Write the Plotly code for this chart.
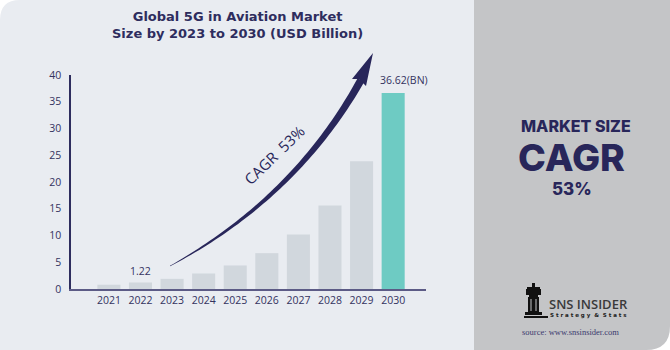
import numpy as np
import plotly.graph_objects as go

# ---------------- data ----------------
years = ["2021", "2022", "2023", "2024", "2025", "2026", "2027", "2028", "2029", "2030"]
market_size = [0.8, 1.22, 1.9, 2.9, 4.4, 6.7, 10.2, 15.6, 23.9, 36.62]
y_ticks = [0, 5, 10, 15, 20, 25, 30, 35, 40]
cagr_label = "CAGR  53%"

W, H = 670, 350
NAVY = "#28265A"
BG = "#E9ECF1"
PANEL = "#C4C5C7"


def px(x):
    return x / W


def py(y):
    return 1 - y / H


bar_colors = ["#D1D7DD"] * (len(years) - 1) + ["#6ECBC3"]

fig = go.Figure()
fig.add_trace(go.Bar(x=years, y=market_size, marker=dict(color=bar_colors, line=dict(width=0)),
                     hoverinfo="x+y", showlegend=False))

shapes = []
# main background with rounded top-left corner
r = 20
shapes.append(dict(type="path", xref="paper", yref="paper", layer="below",
                   path=f"M {px(0)},{py(350)} L {px(0)},{py(r)} Q {px(0)},{py(0)} {px(r)},{py(0)} "
                        f"L {px(474)},{py(0)} L {px(474)},{py(350)} Z",
                   fillcolor=BG, line=dict(width=0)))
# right panel with rounded bottom-right corner
r2 = 24
shapes.append(dict(type="path", xref="paper", yref="paper", layer="below",
                   path=f"M {px(474)},{py(0)} L {px(670)},{py(0)} L {px(670)},{py(350 - r2)} "
                        f"Q {px(670)},{py(350)} {px(670 - r2)},{py(350)} L {px(474)},{py(350)} Z",
                   fillcolor=PANEL, line=dict(width=0)))

# curved tapered arrow (decoration)
P0 = np.array([170.0, 266.0])
C = np.array([295.0, 198.0])
P1 = np.array([361.0, 80.0])
t = np.linspace(0, 1, 60)
pts = ((1 - t) ** 2)[:, None] * P0 + (2 * (1 - t) * t)[:, None] * C + (t ** 2)[:, None] * P1
der = (2 * (1 - t))[:, None] * (C - P0) + (2 * t)[:, None] * (P1 - C)
der = der / np.linalg.norm(der, axis=1)[:, None]
nrm = np.stack([-der[:, 1], der[:, 0]], axis=1)
hw = 0.2 + 3.6 * t ** 0.8
left = pts + nrm * hw[:, None]
right = pts - nrm * hw[:, None]
poly = np.vstack([left, right[::-1]])
path = "M " + " L ".join(f"{px(a)},{py(b)}" for a, b in poly) + " Z"
shapes.append(dict(type="path", xref="paper", yref="paper", path=path,
                   fillcolor=NAVY, line=dict(width=0)))
# arrow head
shapes.append(dict(type="path", xref="paper", yref="paper",
                   path=f"M {px(373)},{py(53)} L {px(352)},{py(79)} L {px(359)},{py(79)} "
                        f"L {px(366)},{py(86)} Z",
                   fillcolor=NAVY, line=dict(width=0)))

# simplified rook logo
K = "#111111"


def rect(x0, y0, x1, y1, color=K):
    return dict(type="rect", xref="paper", yref="paper", x0=px(x0), x1=px(x1), y0=py(y0), y1=py(y1),
                fillcolor=color, line=dict(width=0))


shapes += [
    rect(532, 283, 535, 287),
    rect(527, 287, 540, 289),
    rect(526, 289, 541, 295),
    rect(529, 295, 538, 297),
    rect(528, 297, 539, 312),
    rect(530.5, 299, 531.5, 311, PANEL),
    rect(535.5, 299, 536.5, 311, PANEL),
    rect(525, 312, 542, 315),
    rect(524, 316, 548, 318),
]


def ptext(text, x, y, size, family="Open Sans", color=NAVY, weight=400, xanchor="center", angle=0):
    return dict(text=text, xref="paper", yref="paper", x=px(x), y=py(y), xanchor=xanchor,
                yanchor="middle", showarrow=False, textangle=angle,
                font=dict(family=family, size=size, color=color, weight=weight))


i22 = years.index("2022")
i30 = years.index("2030")
annotations = [
    ptext("Global 5G in Aviation Market<br>Size by 2023 to 2030 (USD Billion)", 237, 25, 13,
          family="DejaVu Sans", color="#2E2D5E", weight=700),
    dict(text=f"{market_size[i22]:.2f}", x=i22, y=market_size[i22], xref="x", yref="y",
         xanchor="center", yanchor="middle", yshift=11, showarrow=False,
         font=dict(family="Open Sans", size=10.5, color="#34335F")),
    dict(text=f"{market_size[i30]:.2f}(BN)", x=i30, y=market_size[i30], xref="x", yref="y",
         xanchor="center", yanchor="middle", xshift=11, yshift=13, showarrow=False,
         font=dict(family="Open Sans", size=10.5, color="#34335F")),
    ptext(cagr_label, 274, 155, 15, angle=-44),
    ptext("MARKET SIZE", 576, 126, 16, family="Inter", weight=800),
    ptext("CAGR", 571, 157, 37.5, family="Inter", weight=800),
    ptext("53%", 572, 189, 17, family="Inter", weight=800),
    ptext("SNS INSIDER", 547, 304, 13, color="#3A3A3A", weight=600, xanchor="left"),
    ptext("S t r a t e g y  &  S t a t s", 548, 315, 5.5, family="DejaVu Sans", color="#222222",
          weight=700, xanchor="left"),
    ptext("source: www.snsinsider.com", 570, 332, 8.5, family="Liberation Serif", color="#3B3A6E"),
]

fig.update_layout(
    width=W, height=H, margin=dict(l=0, r=0, t=0, b=0, autoexpand=False),
    paper_bgcolor="white", plot_bgcolor="rgba(0,0,0,0)",
    bargap=0.27, showlegend=False,
    shapes=shapes, annotations=annotations,
    xaxis=dict(domain=[px(71), px(426)], type="category", range=[-1.2, 10.04], automargin=False,
               showgrid=False, zeroline=False, showline=True, linecolor="#5C5B86", linewidth=2,
               ticks="", tickfont=dict(family="Open Sans", size=10.5, color="#34335F"),
               fixedrange=True),
    yaxis=dict(domain=[py(289), py(75)], range=[0, 40], tickvals=y_ticks, automargin=False,
               showgrid=False, zeroline=False, showline=True, linecolor="#2E2D5E", linewidth=1.5,
               ticks="", ticklabelstandoff=6,
               tickfont=dict(family="Open Sans", size=10.5, color="#34335F"), fixedrange=True),
)

fig.write_html("out.html")
